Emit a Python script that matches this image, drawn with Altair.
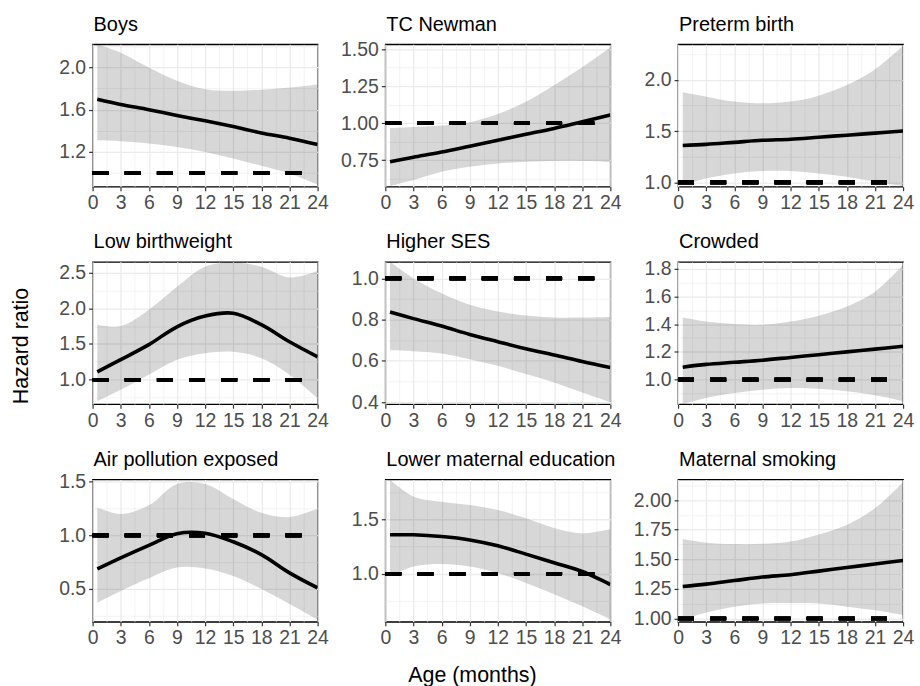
import altair as alt
import pandas as pd

FONT = "Liberation Sans"

AGES = [0.5, 3, 6, 9, 12, 15, 18, 21, 24]
X_GRID = [0, 1.5, 3, 4.5, 6, 7.5, 9, 10.5, 12, 13.5, 15, 16.5, 18, 19.5, 21, 22.5, 24]

PANELS = ["Boys", "TC Newman", "Preterm birth",
          "Low birthweight", "Higher SES", "Crowded",
          "Air pollution exposed", "Lower maternal education", "Maternal smoking"]

BOYS_EST = [1.70, 1.65, 1.60, 1.545, 1.495, 1.44, 1.38, 1.33, 1.27]
BOYS_LO = [1.31, 1.30, 1.28, 1.247, 1.20, 1.137, 1.068, 0.995, 0.89]
BOYS_HI = [2.22, 2.14, 2.00, 1.875, 1.795, 1.78, 1.79, 1.81, 1.84]

TCN_EST = [0.74, 0.77, 0.805, 0.845, 0.885, 0.925, 0.965, 1.01, 1.055]
TCN_LO = [0.576, 0.616, 0.672, 0.705, 0.728, 0.739, 0.745, 0.745, 0.739]
TCN_HI = [0.967, 0.975, 0.985, 1.007, 1.062, 1.145, 1.257, 1.378, 1.511]

PRE_EST = [1.36, 1.37, 1.39, 1.41, 1.42, 1.44, 1.46, 1.48, 1.50]
PRE_LO = [0.974, 1.039, 1.087, 1.11, 1.11, 1.087, 1.055, 1.007, 0.965]
PRE_HI = [1.877, 1.835, 1.787, 1.77, 1.787, 1.845, 1.948, 2.10, 2.33]

LBW_EST = [1.11, 1.28, 1.49, 1.74, 1.89, 1.93, 1.77, 1.53, 1.32]
LBW_LO = [0.70, 0.86, 1.07, 1.28, 1.37, 1.39, 1.30, 1.07, 0.74]
LBW_HI = [1.77, 1.75, 1.98, 2.30, 2.58, 2.64, 2.58, 2.43, 2.52]

SES_EST = [0.837, 0.805, 0.769, 0.728, 0.693, 0.659, 0.629, 0.597, 0.568]
SES_LO = [0.652, 0.647, 0.636, 0.608, 0.576, 0.536, 0.496, 0.447, 0.40]
SES_HI = [1.08, 1.0, 0.928, 0.872, 0.84, 0.82, 0.81, 0.81, 0.813]

CRW_EST = [1.09, 1.11, 1.125, 1.14, 1.16, 1.18, 1.20, 1.22, 1.24]
CRW_LO = [0.825, 0.868, 0.904, 0.928, 0.94, 0.935, 0.916, 0.887, 0.844]
CRW_HI = [1.447, 1.418, 1.40, 1.395, 1.418, 1.46, 1.526, 1.633, 1.825]

AIR_EST = [0.686, 0.79, 0.907, 1.016, 1.02, 0.94, 0.82, 0.65, 0.51]
AIR_LO = [0.37, 0.48, 0.60, 0.70, 0.69, 0.62, 0.50, 0.36, 0.215]
AIR_HI = [1.26, 1.20, 1.28, 1.48, 1.48, 1.34, 1.21, 1.17, 1.25]

LME_EST = [1.357, 1.357, 1.341, 1.31, 1.256, 1.18, 1.10, 1.02, 0.90]
LME_LO = [0.975, 1.067, 1.09, 1.067, 1.006, 0.915, 0.81, 0.70, 0.58]
LME_HI = [1.866, 1.71, 1.66, 1.63, 1.585, 1.51, 1.42, 1.37, 1.41]

SMK_EST = [1.27, 1.29, 1.32, 1.35, 1.37, 1.40, 1.43, 1.46, 1.49]
SMK_LO = [0.99, 1.05, 1.10, 1.126, 1.13, 1.126, 1.10, 1.07, 1.03]
SMK_HI = [1.67, 1.64, 1.628, 1.63, 1.65, 1.71, 1.79, 1.93, 2.15]

SERIES = [(BOYS_EST, BOYS_LO, BOYS_HI), (TCN_EST, TCN_LO, TCN_HI), (PRE_EST, PRE_LO, PRE_HI),
          (LBW_EST, LBW_LO, LBW_HI), (SES_EST, SES_LO, SES_HI), (CRW_EST, CRW_LO, CRW_HI),
          (AIR_EST, AIR_LO, AIR_HI), (LME_EST, LME_LO, LME_HI), (SMK_EST, SMK_LO, SMK_HI)]

Y_DOMAINS = [[0.87, 2.22], [0.571, 1.533], [0.958, 2.345],
             [0.656, 2.649], [0.39, 1.08], [0.823, 1.848],
             [0.193, 1.522], [0.558, 1.866], [0.972, 2.174]]
Y_MAJOR = [[1.2, 1.6, 2.0], [0.75, 1.0, 1.25, 1.5], [1.0, 1.5, 2.0],
           [1.0, 1.5, 2.0, 2.5], [0.4, 0.6, 0.8, 1.0], [1.0, 1.2, 1.4, 1.6, 1.8],
           [0.5, 1.0, 1.5], [1.0, 1.5], [1.0, 1.25, 1.5, 1.75, 2.0]]
Y_MINOR = [[1.0, 1.4, 1.8, 2.2], [0.625, 0.875, 1.125, 1.375], [1.25, 1.75, 2.25],
           [0.75, 1.25, 1.75, 2.25], [0.5, 0.7, 0.9], [0.9, 1.1, 1.3, 1.5, 1.7],
           [0.25, 0.75, 1.25], [0.75, 1.25, 1.75], [1.125, 1.375, 1.625, 1.875, 2.125]]
Y_FMT = [".1f", ".2f", ".1f", ".1f", ".1f", ".1f", ".1f", ".1f", ".2f"]

REF = 1.0
W, H = 226, 143
LW = 3.6
LABEL_SIZE = 19.5
INTERP = "catmull-rom"


def cond(test, a, b):
    return {"condition": {"test": test, "value": a}, "value": b}


def panel(i):
    est, lo, hi = SERIES[i]
    df = pd.DataFrame({"age": AGES, "est": est, "lo": lo, "hi": hi})
    xtest = "datum.value % 3 == 0"
    majors = Y_MAJOR[i]
    ytest = "indexof(" + str(majors) + ", datum.value) >= 0"
    xkw = dict(
        values=X_GRID,
        labelExpr="datum.value % 3 == 0 ? format(datum.value, 'd') : ''",
        labelFontSize=cond(xtest, LABEL_SIZE, 0),
        tickOpacity=cond(xtest, 1, 0),
        gridWidth=cond(xtest, 1.3, 0.6),
    )
    ykw = dict(
        values=sorted(majors + Y_MINOR[i]),
        labelExpr=ytest + " ? format(datum.value, '" + Y_FMT[i] + "') : ''",
        labelFontSize=cond(ytest, LABEL_SIZE, 0),
        tickOpacity=cond(ytest, 1, 0),
        gridWidth=cond(ytest, 1.3, 0.6),
    )
    xtitle = ""
    ytitle = ""
    if i == 7:
        xtitle = "Age (months)"
        xkw.update(titleX=87, titleY=54, titleBaseline="middle", titleAlign="center")
    if i == 3:
        ytitle = "Hazard ratio"
        ykw.update(titleX=-71, titleY=84, titleBaseline="middle", titleAlign="center", titleAngle=270)
    xaxis = alt.Axis(**xkw)
    yaxis = alt.Axis(**ykw)
    xscale = alt.Scale(domain=[0, 24], nice=False, zero=False)
    yscale = alt.Scale(domain=Y_DOMAINS[i], nice=False, zero=False)
    x = alt.X("age:Q", scale=xscale, axis=xaxis, title=xtitle)
    base = alt.Chart(df)
    band = base.mark_area(color="black", opacity=0.155, clip=True, interpolate=INTERP).encode(
        x=x,
        y=alt.Y("lo:Q", scale=yscale, axis=yaxis, title=ytitle),
        y2="hi:Q",
    )
    line = base.mark_line(color="black", strokeWidth=LW, clip=True, interpolate=INTERP).encode(
        x=x,
        y=alt.Y("est:Q", scale=yscale, axis=yaxis, title=ytitle),
    )
    rule = base.mark_rule(color="black", strokeWidth=LW, strokeDash=[16, 16.3]).encode(
        x=alt.XDatum(0, type="quantitative", scale=xscale, axis=xaxis, title=xtitle),
        x2=alt.X2Datum(24),
        y=alt.YDatum(REF, type="quantitative", scale=yscale, axis=yaxis, title=ytitle),
    )
    title = alt.Chart(pd.DataFrame({"panel": [PANELS[i]]})).mark_text(
        align="left", baseline="alphabetic", font=FONT, fontSize=20, color="black"
    ).encode(text="panel:N", x=alt.value(1), y=alt.value(-13.5))
    return alt.layer(band, line, rule, title).properties(width=W, height=H)


chart = alt.concat(*[panel(i) for i in range(9)], columns=3,
                   spacing={"row": 75.5, "column": 68}, bounds="flush").properties(
    padding={"left": 10, "top": 12, "right": 5, "bottom": 5},
    background="white",
).configure_view(
    stroke="black", strokeWidth=1.3
).configure_axis(
    domain=False,
    labelFont=FONT, labelFontSize=LABEL_SIZE, labelColor="#4D4D4D",
    labelPadding=3, labelFlush=False, labelOverlap=False,
    tickColor="#333333", tickSize=4, tickWidth=1.2,
    gridColor="#EBEBEB",
    titleFont=FONT, titleFontSize=21.5, titleFontWeight="normal", titleColor="black",
)

chart.save("out.html", embed_options={"renderer": "svg", "actions": False})
